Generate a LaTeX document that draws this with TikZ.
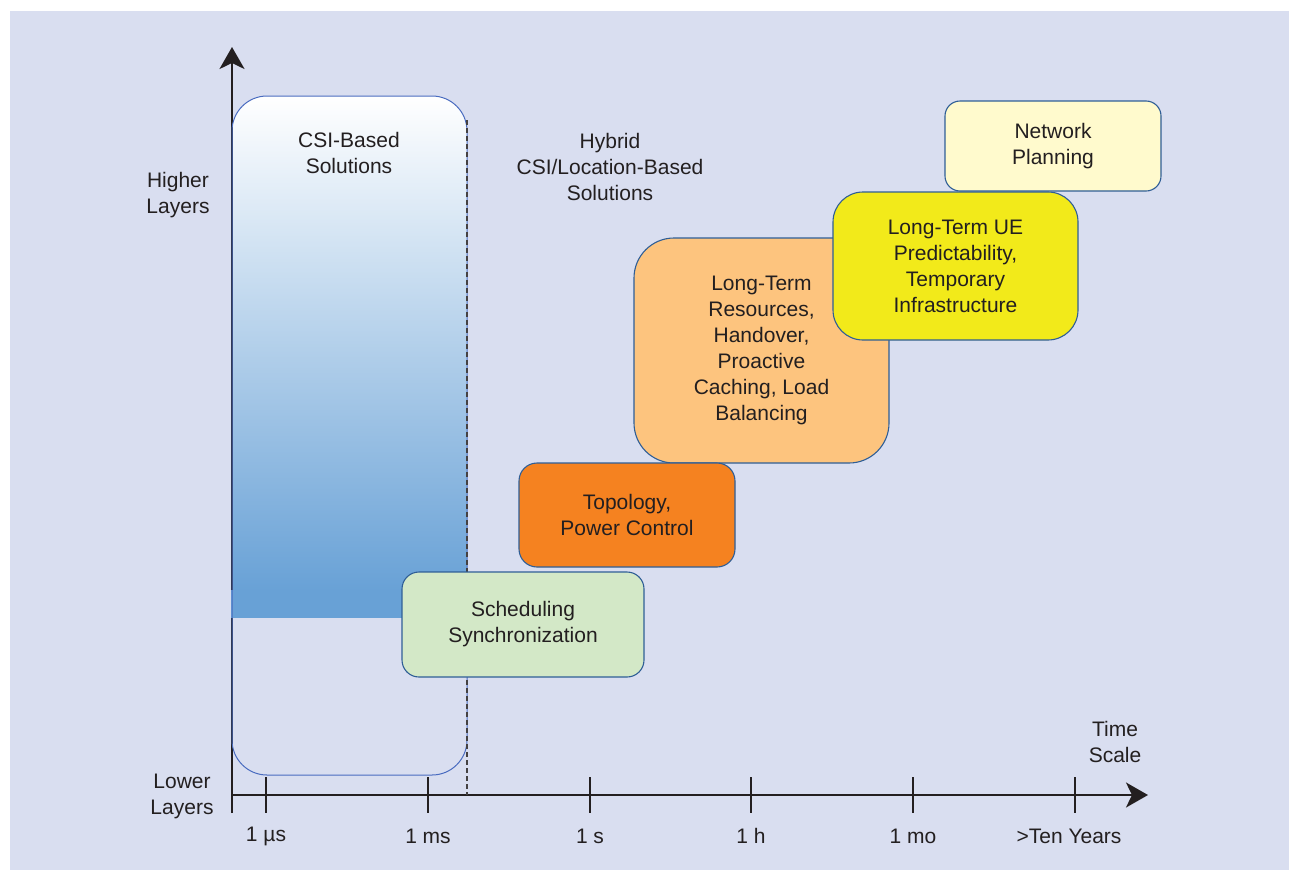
\documentclass[tikz,border=0pt]{standalone}
\usepackage{fontspec}
\setmainfont{Liberation Sans}
\usetikzlibrary{arrows.meta}
\definecolor{bg}{HTML}{D9DEF0}
\definecolor{txt}{HTML}{231F20}
\definecolor{edge}{HTML}{2F5E96}
\definecolor{csiedge}{HTML}{4A6CC0}
\definecolor{csiblue}{HTML}{68A1D6}
\definecolor{schedgreen}{HTML}{D3E8C7}
\definecolor{topoorange}{HTML}{F58220}
\definecolor{ltorange}{HTML}{FDC47E}
\definecolor{ueyellow}{HTML}{F2EA1A}
\definecolor{npyellow}{HTML}{FFFACD}
\begin{document}
\begin{tikzpicture}[x=1pt,y=-1pt,
  font=\fontsize{21}{26}\selectfont, text=txt,
  lbl/.style={align=center, inner sep=0pt},
  box/.style={draw=edge, line width=1.1pt, align=center, inner sep=0pt},
  axisline/.style={draw=txt, line width=2.4pt},
  tick/.style={draw=txt, line width=2.4pt},
  tip/.style={-{Stealth[length=22pt, width=25pt, inset=6pt]}},
]
\useasboundingbox (0,0) rectangle (1289,870);
\fill[bg] (10,11) rectangle (1289,870);

% CSI gradient fill
\begin{scope}
  \clip[rounded corners=35pt] (232,96) rectangle (467,775);
  \shade[top color=white, bottom color=csiblue] (232,96) rectangle (467,591);
\end{scope}

% axes
\coordinate (yb) at (232,813);
\coordinate (yt) at (232,47);
\coordinate (xl) at (232,795);
\coordinate (xr) at (1148,795);
\draw[axisline, tip] (yb) -- (yt);
\draw[axisline, tip] (xl) -- (xr);

% band
\fill[csiblue] (231,590) rectangle (467,618);

% CSI outline
\draw[csiedge, line width=1pt, rounded corners=35pt] (232,96) rectangle (467,775);
\coordinate (dtop) at (467,120);
\coordinate (dbot) at (467,795);
\draw[txt!85, line width=2.2pt, dash pattern=on 5pt off 3pt] (dtop) -- (dbot);

% ticks
\foreach \x/\name/\lab in {266/t1/{1 µs}, 428/t2/{1 ms}, 590/t3/{1 s}, 751/t4/{1 h}, 913/t5/{1 mo}}{
  \coordinate (\name a) at (\x,777);
  \coordinate (\name b) at (\x,813);
  \draw[tick] (\name a) -- (\name b);
  \node[lbl] (\name l) at (\x,836) {\lab};
}
\coordinate (t6a) at (1075,777);
\coordinate (t6b) at (1075,813);
\draw[tick] (t6a) -- (t6b);
\node[lbl] (t6l) at (1069,836) {>Ten Years};

% axis labels
\node[lbl] (higher) at (178,195) {Higher\\Layers};
\node[lbl] (lower) at (182,796) {Lower\\Layers};
\node[lbl] (time) at (1115,742) {Time\\Scale};

% region labels
\node[lbl] (csi) at (349,153) {CSI-Based\\Solutions};
\node[lbl] (hyb) at (610,167) {Hybrid\\CSI/Location-Based\\Solutions};

% boxes
\node[box, fill=ltorange, rounded corners=40pt, minimum width=255pt, minimum height=225pt] (ltr) at (761.5,350.5)
  {Long-Term\\Resources,\\Handover,\\Proactive\\Caching, Load\\Balancing};
\node[box, fill=ueyellow, rounded corners=30pt, minimum width=245pt, minimum height=148pt] (ue) at (955.5,266)
  {Long-Term UE\\Predictability,\\Temporary\\Infrastructure};
\node[box, fill=npyellow, rounded corners=15pt, minimum width=216pt, minimum height=90pt] (np) at (1053,146)
  {Network\\Planning};
\node[box, fill=topoorange, rounded corners=18pt, minimum width=216pt, minimum height=104pt] (topo) at (627,515)
  {Topology,\\Power Control};
\node[box, fill=schedgreen, rounded corners=17pt, minimum width=242pt, minimum height=105pt] (sched) at (523,624.5)
  {Scheduling\\Synchronization};
\end{tikzpicture}
\end{document}
